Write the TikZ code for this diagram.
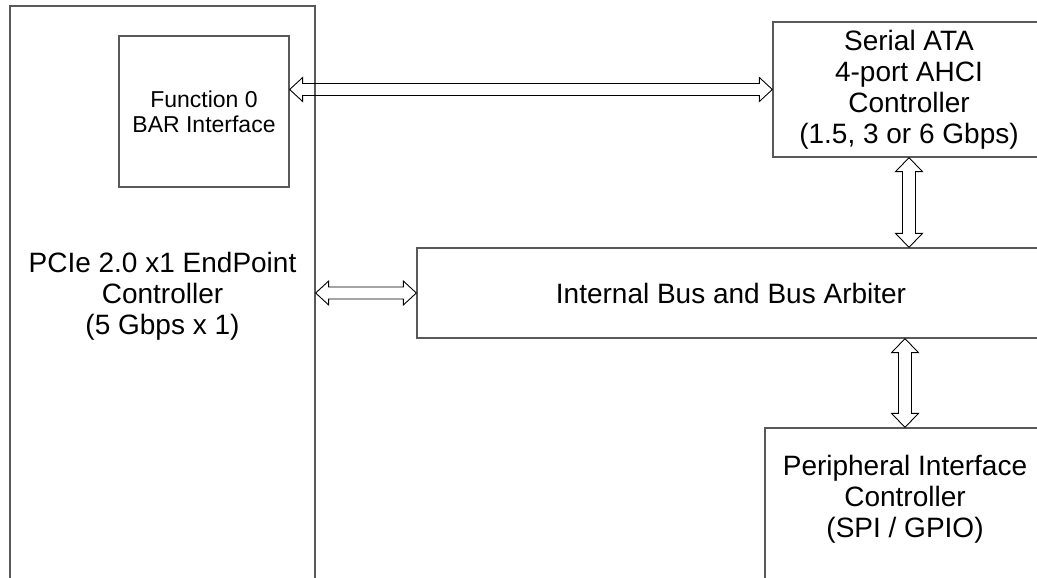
\documentclass[tikz,border=0pt]{standalone}
\usepackage{fontspec}
\setmainfont{Liberation Sans}
\usetikzlibrary{calc}

\tikzset{
  block/.style={draw=black!65, line width=1.3pt, inner sep=0pt, align=center, font=\fontsize{28}{31}\selectfont},
  smallblock/.style={block, font=\fontsize{23}{25}\selectfont},
  busarrow/.style={draw=black, line width=0.9pt, line join=miter},
}

% double block arrows, horizontal (left, right) and vertical (top, bottom)
\newcommand{\hbus}[2]{%
  \draw[busarrow] let \p1=(#1), \p2=(#2) in
    (\x1,\y1) -- (\x1+13pt,\y1+12pt) -- (\x1+13pt,\y1+6pt) -- (\x2-13pt,\y1+6pt) -- (\x2-13pt,\y1+12pt)
    -- (\x2,\y1) -- (\x2-13pt,\y1-12pt) -- (\x2-13pt,\y1-6pt) -- (\x1+13pt,\y1-6pt) -- (\x1+13pt,\y1-12pt) -- cycle;}
\newcommand{\vbus}[2]{%
  \draw[busarrow] let \p1=(#1), \p2=(#2) in
    (\x1,\y1) -- (\x1+13.5pt,\y1-14pt) -- (\x1+6.5pt,\y1-14pt) -- (\x1+6.5pt,\y2+14pt) -- (\x1+13.5pt,\y2+14pt)
    -- (\x1,\y2) -- (\x1-13.5pt,\y2+14pt) -- (\x1-6.5pt,\y2+14pt) -- (\x1-6.5pt,\y1-14pt) -- (\x1-13.5pt,\y1-14pt) -- cycle;}

\begin{document}
\begin{tikzpicture}[x=1pt,y=-1pt]
    % Fix the page
    \useasboundingbox (0,0) rectangle (1037,578);
    \clip (0,0) rectangle (1037,578);
    % Draw the blocks
    \node[block, minimum width=305, minimum height=580] (pcie) at (162.5,296) {PCIe 2.0 x1 EndPoint\\Controller\\(5 Gbps x 1)};
    \node[smallblock, minimum width=170, minimum height=151] (func) at (204,111.5) {Function 0\\BAR Interface};
    \node[block, minimum width=272, minimum height=135] (sata) at (909,89.5) {Serial ATA\\4-port AHCI\\Controller\\(1.5, 3 or 6 Gbps)};
    \node[block, minimum width=628, minimum height=90] (bus) at (731,293) {Internal Bus and Bus Arbiter};
    \node[block, minimum width=280, minimum height=212,
          label={[anchor=center, yshift=-72pt, align=center, font=\fontsize{28}{31}\selectfont]north:Peripheral Interface\\Controller\\(SPI / GPIO)}] (peri) at (905,534) {};
    % Draw the bus arrows
    \hbus{func.east |- sata.west}{sata.west}
    \hbus{pcie.east |- bus.west}{bus.west}
    \vbus{sata.south}{sata.south |- bus.north}
    \vbus{peri.north |- bus.south}{peri.north}
\end{tikzpicture}
\end{document}
